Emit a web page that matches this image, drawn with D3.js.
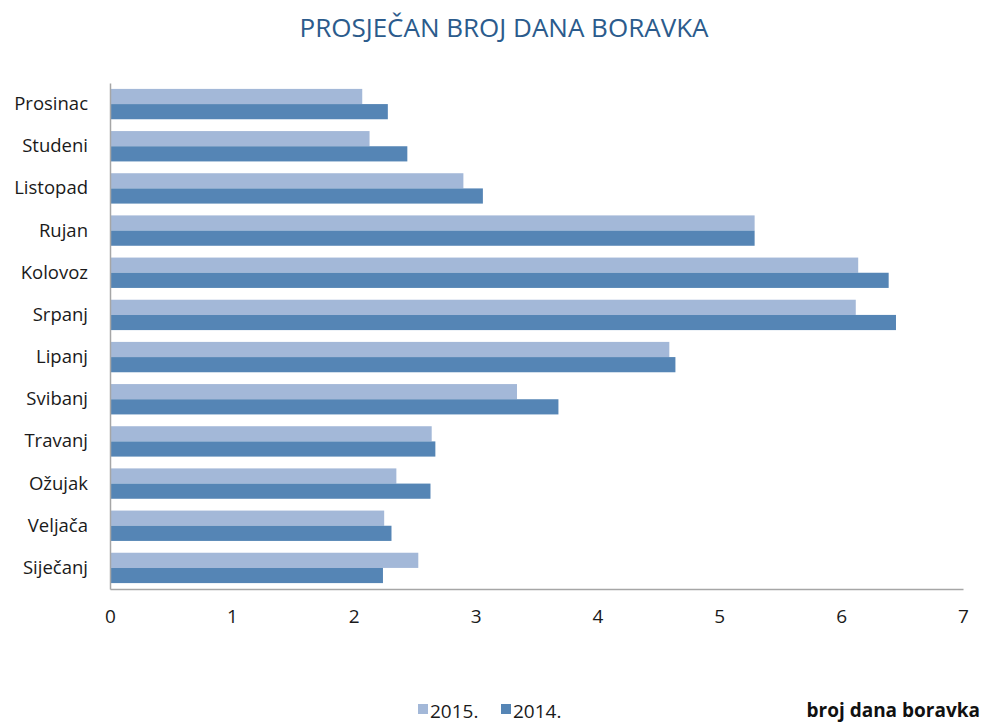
<!DOCTYPE html>
<html>
<head>
<meta charset="utf-8">
<script src="https://cdn.jsdelivr.net/npm/d3@7"></script>
<style>
  body { margin: 0; background: #fff; }
  text { font-family: "Open Sans", sans-serif; }
</style>
</head>
<body>
<div id="chart"></div>
<script>
// data, top to bottom as drawn
const months = ["Prosinac", "Studeni", "Listopad", "Rujan", "Kolovoz", "Srpanj",
                "Lipanj", "Svibanj", "Travanj", "Ožujak", "Veljača", "Siječanj"];
const values2015 = [2.07, 2.13, 2.90, 5.29, 6.14, 6.12, 4.59, 3.34, 2.64, 2.35, 2.25, 2.53];
const values2014 = [2.28, 2.44, 3.06, 5.29, 6.39, 6.45, 4.64, 3.68, 2.67, 2.63, 2.31, 2.24];
const xTicks = [0, 1, 2, 3, 4, 5, 6, 7];

const svgWidth = 982;
const svgHeight = 724;
const margin = { top: 83, right: 19, bottom: 135, left: 110 };
const width = svgWidth - margin.left - margin.right;
const height = svgHeight - margin.top - margin.bottom;

const light = "#a3b8d8";
const dark = "#5585b5";

const svg = d3.select("#chart")
    .append("svg")
    .attr("width", svgWidth)
    .attr("height", svgHeight);

svg.append("text")
    .attr("x", 504)
    .attr("y", 37)
    .attr("text-anchor", "middle")
    .attr("font-size", 26)
    .attr("fill", "#2b5b8c")
    .text("PROSJEČAN BROJ DANA BORAVKA");

const chartGroup = svg.append("g")
    .attr("transform", `translate(${margin.left}, ${margin.top})`);

const xScale = d3.scaleLinear().domain([0, 7]).range([0, width]);
const yScale = d3.scaleBand().domain(months).range([0, height]).paddingInner(0.28).paddingOuter(0.14);
const sub = d3.scaleBand().domain(["2015", "2014"]).range([0, yScale.bandwidth()]);

// bars
const rows = chartGroup.selectAll(".row")
    .data(months)
    .enter()
    .append("g")
    .attr("transform", d => `translate(0, ${yScale(d)})`);

rows.append("rect")
    .attr("x", 0)
    .attr("y", sub("2015"))
    .attr("height", sub.bandwidth())
    .attr("width", (d, i) => xScale(values2015[i]))
    .attr("fill", light);

rows.append("rect")
    .attr("x", 0)
    .attr("y", sub("2014"))
    .attr("height", sub.bandwidth())
    .attr("width", (d, i) => xScale(values2014[i]))
    .attr("fill", dark);

// axes
const bottomAxis = d3.axisBottom(xScale).tickValues(xTicks).tickSize(0).tickPadding(21).tickFormat(d3.format("d"));
const xAxis = chartGroup.append("g")
    .attr("transform", `translate(0, ${height})`)
    .call(bottomAxis);
xAxis.select(".domain").attr("stroke", "#a6a6a6").attr("stroke-width", 1.5);
xAxis.selectAll("text").attr("font-size", 19).attr("fill", "#1a1a1a");

const leftAxis = d3.axisLeft(yScale).tickSize(0).tickPadding(22);
const yAxis = chartGroup.append("g").call(leftAxis);
yAxis.select(".domain").attr("stroke", "#a6a6a6").attr("stroke-width", 1.5);
yAxis.selectAll("text").attr("font-size", 18.5).attr("fill", "#1a1a1a");

// legend
const legend = svg.append("g").attr("transform", "translate(418, 718)");
[["2015.", light], ["2014.", dark]].forEach((d, i) => {
    const g = legend.append("g").attr("transform", `translate(${i * 83}, 0)`);
    g.append("rect").attr("x", 0).attr("y", -14).attr("width", 10).attr("height", 10).attr("fill", d[1]);
    g.append("text").attr("x", 12).attr("y", 0).attr("font-size", 19).attr("fill", "#1a1a1a").text(d[0]);
});

svg.append("text")
    .attr("x", 980)
    .attr("y", 717)
    .attr("text-anchor", "end")
    .attr("font-size", 19)
    .attr("font-weight", "bold")
    .attr("fill", "#111")
    .text("broj dana boravka");
</script>
</body>
</html>
